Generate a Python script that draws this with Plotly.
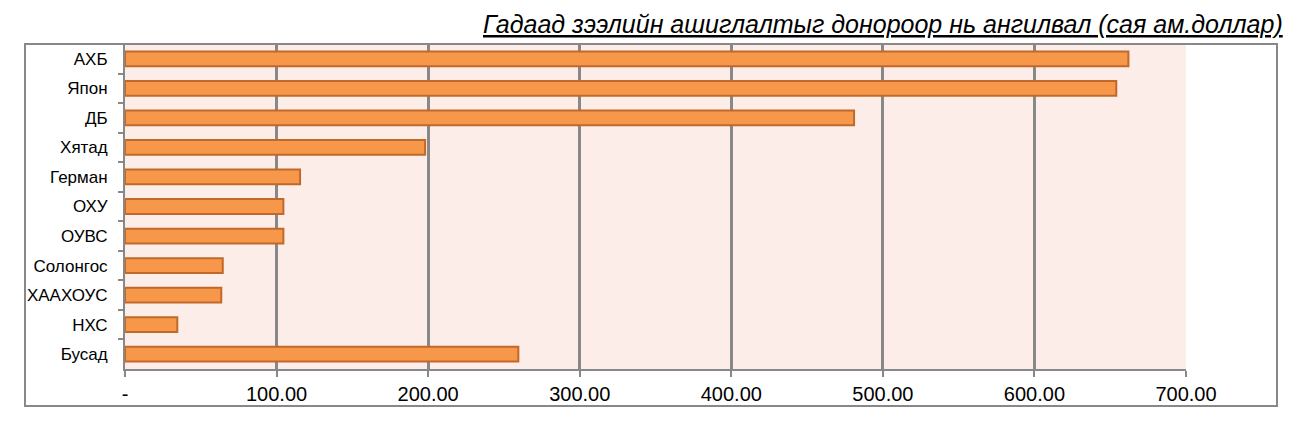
import plotly.graph_objects as go

categories = ["АХБ", "Япон", "ДБ", "Хятад", "Герман", "ОХУ", "ОУВС", "Солонгос", "ХААХОУС", "НХС", "Бусад"]
values = [662, 654, 481, 198, 115.5, 104.5, 104.5, 64.5, 63.5, 34.5, 259.5]
tick_vals = [0, 100, 200, 300, 400, 500, 600, 700]
tick_text = ["-", "100.00", "200.00", "300.00", "400.00", "500.00", "600.00", "700.00"]
title = "Гадаад зээлийн ашиглалтыг донороор нь ангилвал (сая ам.доллар)"

W, H = 1312, 421
OFF = 8  # page body margin
# target plot area in screen px: x 125..1186, y 44..369
L, T = 125 - OFF, 44 - OFF
pw, ph = 1186 - 125, 369 - 44
R = W - L - pw
B = H - T - ph

fig = go.Figure(go.Bar(
    x=values, y=categories, orientation="h",
    width=0.5,
    marker=dict(color="#F7974A", line=dict(color="#C0692A", width=2)),
))

def px_x(px):
    return (px - 125) / pw

def px_y(py):
    return (369 - py) / ph

fig.update_layout(
    width=W, height=H,
    margin=dict(l=L, r=R, t=T, b=B),
    paper_bgcolor="white",
    plot_bgcolor="#FCEDE8",
    font=dict(family="Liberation Sans, Arial, sans-serif", color="black"),
    showlegend=False,
    xaxis=dict(
        range=[0, 700], tickvals=tick_vals, ticktext=tick_text,
        showgrid=True, gridcolor="#888888", gridwidth=2.5,
        zeroline=False, showline=True, linecolor="#888888", linewidth=2,
        ticks="outside", ticklen=6, tickcolor="#888888", tickwidth=2,
        tickfont=dict(size=20), fixedrange=True,
    ),
    yaxis=dict(
        categoryorder="array", categoryarray=categories, autorange="reversed",
        showgrid=False, zeroline=False, showline=True, linecolor="#888888", linewidth=2,
        ticks="outside", ticklen=5, tickcolor="#888888", tickwidth=2,
        tickson="boundaries", ticklabelstandoff=12,
        tickfont=dict(size=17),
    ),
    shapes=[dict(
        type="rect", xref="paper", yref="paper",
        x0=px_x(25), x1=px_x(1277), y0=px_y(406), y1=px_y(44),
        line=dict(color="#888888", width=2), fillcolor="rgba(0,0,0,0)", layer="below",
    )],
    annotations=[dict(
        text="<i><u>" + title + "</u></i>",
        xref="paper", yref="paper", x=px_x(1285), y=px_y(40),
        xanchor="right", yanchor="bottom", showarrow=False,
        font=dict(size=25, family="Liberation Sans, Arial, sans-serif", color="black"),
    )],
)

fig.write_html("out.html")
